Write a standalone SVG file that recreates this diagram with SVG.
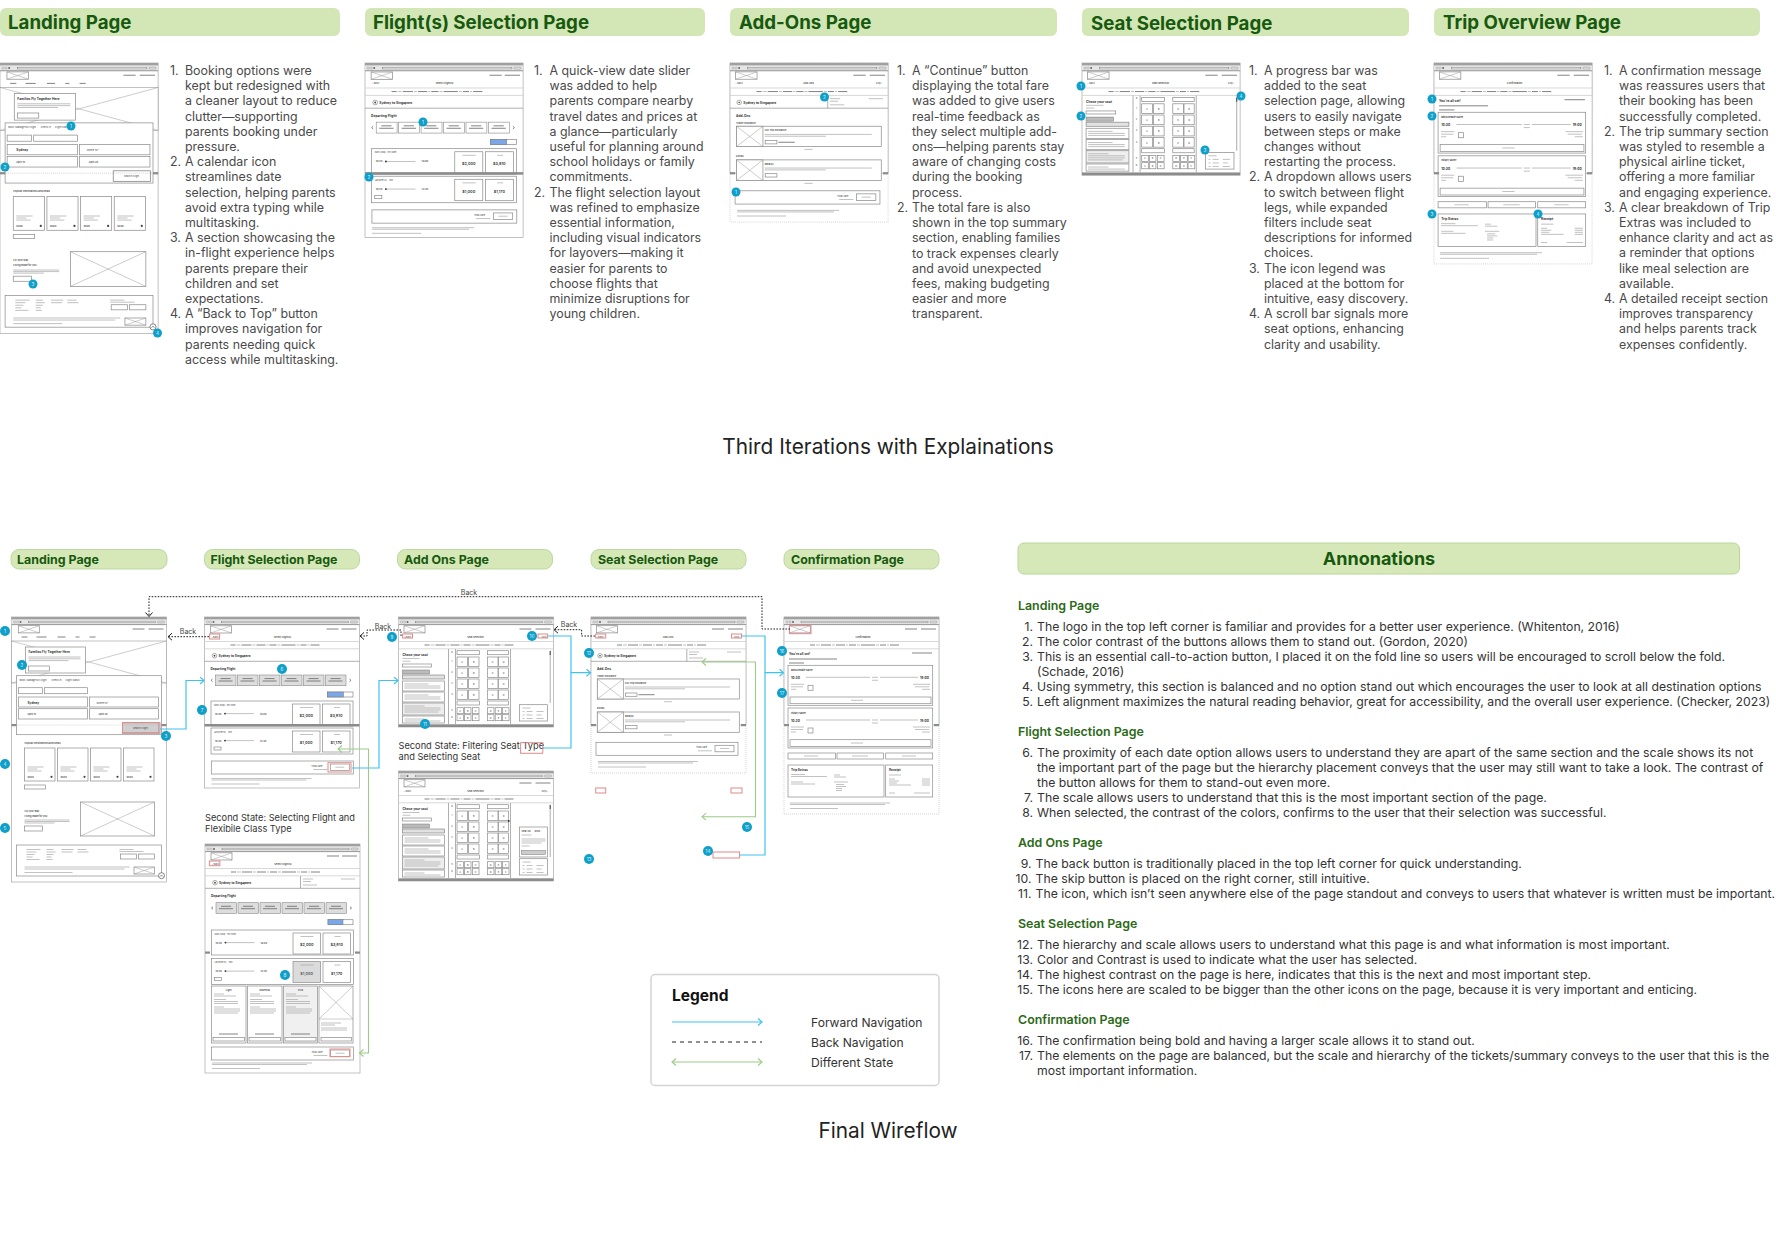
<svg xmlns="http://www.w3.org/2000/svg" width="1776" height="1260" viewBox="0 0 1776 1260">
<style>
text{font-family:Inter,"Liberation Sans",sans-serif}
.hd{fill:#d3e6b5}
.hd2{fill:#d6e8b7;stroke:#bcd8a0;stroke-width:1}
.ht{font-size:18.7px;font-weight:700;fill:#17590f}
.ht2{font-size:12.4px;font-weight:700;fill:#17590f}
.t{font-size:12.4px;fill:#4a4a4a}
.an{font-size:12.26px;fill:#333}
.sec{font-size:12.4px;font-weight:600;fill:#2c6a17}
.cap{font-size:9.25px;fill:#333}
.big{font-size:20.8px;fill:#222}
.bk{font-size:7px;fill:#444;text-anchor:middle}
.w{fill:#fff;stroke:#9a9a9a;stroke-width:.6}
.dash{fill:#fff;stroke:#bbb;stroke-width:.6;stroke-dasharray:1 1}
.b{fill:#fff;stroke:#8a8a8a;stroke-width:.7}
.g{fill:var(--sl,#ddd);stroke:#8a8a8a;stroke-width:.6}
.sb{fill:var(--sb,#cfcfcf);stroke:#777;stroke-width:.7}
.c{fill:none;stroke:#9a9a9a;stroke-width:.5}
.tx{fill:none;stroke:#a8a8a8;stroke-width:.7}
.tk{fill:none;stroke:#666;stroke-width:.8}
.div{fill:none;stroke:#8e8e8e;stroke-width:.7}
.fold{fill:#8c8c8c}
.m{font-size:2.4px;fill:#444}
.h{font-size:3.2px;font-weight:700;fill:#333}
.p{font-size:3.8px;font-weight:600;fill:#333;text-anchor:middle}
.r{fill:none;stroke:#e48a8a;stroke-width:1}
.fw{fill:none;stroke:#3fc3ee;stroke-width:1.2}
.bn{fill:none;stroke:#222;stroke-width:1;stroke-dasharray:1.6 1.4}
.ds{fill:none;stroke:#9ccb85;stroke-width:1.1}
.bd{fill:#0f9fc8}
.bt{font-size:4.6px;fill:#dff4fb;text-anchor:middle}
</style>
<defs>
<marker id="aB" markerWidth="7" markerHeight="8" refX="5" refY="4" orient="auto-start-reverse" markerUnits="userSpaceOnUse"><path d="M1 .5L5 4L1 7.5" fill="none" stroke="#3fc3ee" stroke-width="1.2"/></marker>
<marker id="aK" markerWidth="7" markerHeight="8" refX="5" refY="4" orient="auto-start-reverse" markerUnits="userSpaceOnUse"><path d="M1 .5L5 4L1 7.5" fill="none" stroke="#222" stroke-width="1"/></marker>
<marker id="aG" markerWidth="7" markerHeight="8" refX="5" refY="4" orient="auto-start-reverse" markerUnits="userSpaceOnUse"><path d="M1 .5L5 4L1 7.5" fill="none" stroke="#9ccb85" stroke-width="1.1"/></marker>
<g id="chrome">
<rect width="155" height="2.6" fill="#a0a0a0"/>
<rect y="2.6" width="155" height="5" fill="#e6e6e6"/>
<path d="M0 7.6H155" stroke="#8c8c8c" stroke-width=".9"/>
<circle cx="3" cy="5" r="1.1" class="c"/><circle cx="6" cy="5" r="1.1" class="c"/><circle cx="9" cy="5" r="1" fill="#666"/>
<rect x="17" y="4.2" width="127" height="1.6" fill="#fff" stroke="#777" stroke-width=".5"/>
<rect x="146" y="4.2" width="7" height="1.6" rx=".8" fill="#fff" stroke="#777" stroke-width=".5"/>
</g>
<g id="logo"><rect width="21" height="7.2" class="b"/><path d="M0 0L21 7.2M21 0L0 7.2" class="c"/></g>
<g id="prog"><path d="M0 24.5H155M0 31.8H155" stroke="#cfcfcf" stroke-width=".8"/><path d="M26 28h5M37 28h10M52 28h9M65 28h7M77 28h14M96 28h6M106 28h9" class="tk" stroke-width=".7"/><path d="M32 28h4M48 28h3M62 28h2M73 28h3M92 28h3M103 28h2" class="tx" stroke-width=".4"/></g>
<g id="fine"><path d="M7 0h100M7 1.5h95M7 5.5h48" class="tx" stroke-width=".55"/></g>
<g id="slider">
<rect x="0" width="20.5" height="10.7" class="g"/><rect x="22" width="20.5" height="10.7" class="g"/><rect x="44" width="20.5" height="10.7" class="g"/><rect x="66" width="20.5" height="10.7" class="g"/><rect x="88" width="20.5" height="10.7" class="g"/><rect x="110" width="20.5" height="10.7" class="g"/>
<path d="M5 3.6h10M3 6h14M27 3.6h10M25 6h14M49 3.6h10M47 6h14M71 3.6h10M69 6h14M93 3.6h10M91 6h14M115 3.6h10M113 6h14" class="tk" stroke-width=".5"/>
<path d="M-3 4L-4.5 5.3L-3 6.6M134 4L135.5 5.3L134 6.6" class="tk" stroke-width=".6"/>
</g>
<g id="total"><rect width="142" height="13" class="b" stroke-width=".8"/><rect x="119" y="3" width="19" height="6.5" class="b"/><path d="M124 6.2h9" class="tx"/><text x="100" y="6.2" class="m">Total Fare</text><path d="M102 8.5h14" class="tx" stroke-width=".4"/></g>
<g id="frow1">
<rect width="142" height="25" class="b" fill="#fff"/><rect x="81.500" y="3" width="27.500" height="21" class="b"/><rect x="111.500" y="3" width="27.500" height="21" class="b"/>
<text x="3" y="4.500" class="m">Non-stop · 9h 30m</text>
<text x="4" y="13.500" class="m" font-weight="600">10:30</text><path d="M13 12.600h30" class="tx" stroke-width="1"/><circle cx="14" cy="12.600" r=".9" fill="#333"/><text x="49" y="13.500" class="m" font-weight="600">19:00</text>
<path d="M89 6.500h13M123 6.500h6" class="tx" stroke-width=".5"/><text x="95.200" y="16" class="p">$2,000</text><text x="125.200" y="16" class="p">$3,810</text>
</g>
<g id="frow2">
<rect width="142" height="26" class="b" fill="#fff"/><rect x="81.500" y="3" width="27.500" height="21" class="b"/><rect x="111.500" y="3" width="27.500" height="21" class="b"/>
<text x="3" y="4.500" class="m">Layover(s) · 10h</text>
<text x="4" y="13.500" class="m" font-weight="600">10:30</text><path d="M13 12.600h30" class="tx" stroke-width="1"/><circle cx="14" cy="12.600" r=".9" fill="#333"/><text x="49" y="13.500" class="m" font-weight="600">12:30</text>
<rect x="3" y="19" width="7" height="3" class="b"/>
<path d="M89 6.500h13M123 6.500h6" class="tx" stroke-width=".5"/><text x="95.200" y="16" class="p">$1,000</text><text x="125.200" y="16" class="p">$1,170</text>
</g>
<g id="dest"><rect width="30.500" height="33" class="b"/><path d="M3 19h16M3 21h10M3 23h14" class="tx" stroke-width=".5"/><text x="3" y="29.500" class="m" font-weight="600">$500</text><circle cx="27" cy="28.800" r="1.100" fill="#444"/></g>
<g id="seat4">
<rect width="10.500" height="9.500" class="b"/><rect x="11.500" width="10.500" height="9.500" class="b"/><rect x="30.500" width="10.500" height="9.500" class="b"/><rect x="41.500" width="10" height="9.500" class="b"/>
<text x="5.200" y="6" class="m" text-anchor="middle">A</text><text x="16.800" y="6" class="m" text-anchor="middle">B</text><text x="35.700" y="6" class="m" text-anchor="middle">C</text><text x="46.500" y="6" class="m" text-anchor="middle">D</text>
</g>
<g id="seat6">
<rect width="6.500" height="6" class="b"/><rect x="7.500" width="6.500" height="6" class="b"/><rect x="15.500" width="6.500" height="6" class="b"/><rect x="30.500" width="6.500" height="6" class="b"/><rect x="38.200" width="6.500" height="6" class="b"/><rect x="45.500" width="6.500" height="6" class="b"/>
<text x="3.200" y="3.900" class="m" text-anchor="middle">A</text><text x="10.700" y="3.900" class="m" text-anchor="middle">B</text><text x="18.700" y="3.900" class="m" text-anchor="middle">C</text><text x="33.700" y="3.900" class="m" text-anchor="middle">D</text><text x="41.400" y="3.900" class="m" text-anchor="middle">E</text><text x="48.700" y="3.900" class="m" text-anchor="middle">F</text>
</g>
<g id="wf-landing">
<rect class="w" width="155" height="265"/><use href="#chrome"/>
<use href="#logo" x="6.800" y="8.700"/>
<path d="M121 12h12M137 12h15M10 20h6M25 20h10M46 20h8M64 20h4M78 20h6" class="tk" stroke-width=".7"/>
<rect y="24" width="155" height="42" fill="#fff" stroke="#9a9a9a" stroke-width=".6"/><path d="M0 24L155 66M155 24L0 66" class="c"/>
<rect x="14" y="30" width="60" height="26" class="b" stroke-width="1"/>
<text x="17" y="36" class="h">Families Fly Together Here</text>
<path d="M17 40h52M17 41.800h52M17 43.600h40" class="tx" stroke-width=".6"/><rect x="17" y="49" width="21" height="5" class="b"/>
<rect x="5" y="58.700" width="145" height="59" class="b" stroke-width=".8"/>
<text x="8" y="64" class="m">Book</text><text x="15" y="64" class="m">Manage My Flight</text><text x="40" y="64" class="m">Check In</text><text x="54" y="64" class="m">Flight Status</text>
<rect x="7" y="70.700" width="24" height="6" class="b"/><rect x="33" y="70.700" width="43" height="6" class="b"/>
<rect x="7" y="80" width="69" height="10" class="b"/><rect x="78" y="80" width="69" height="10" class="b"/><rect x="7" y="91.700" width="69" height="10.300" class="b"/><rect x="78" y="91.700" width="69" height="10.300" class="b"/>
<text x="16" y="86.500" class="h" font-size="3">Sydney</text><text x="85" y="86.500" class="m">Where to?</text><text x="16" y="98" class="m" font-weight="600">April 16</text><text x="87" y="98" class="m" font-weight="600">April 28</text>
<rect x="111" y="105.700" width="36.500" height="10.300" class="sb"/><text x="129" y="111.500" class="m" text-anchor="middle">Search Flight</text>
<path d="M0 108H155" stroke="#aaa" stroke-width=".5" stroke-dasharray="1 1"/><rect y="107" width="5" height="2.200" class="fold"/><rect x="150" y="107" width="5" height="2.200" class="fold"/>
<text x="13" y="126.500" class="m" font-weight="600" font-size="2.800">Popular Destinations and Deals</text>
<use href="#dest" x="13" y="131"/><use href="#dest" x="46" y="131"/><use href="#dest" x="79" y="131"/><use href="#dest" x="112" y="131"/>
<rect x="13" y="168" width="21" height="4" class="b"/>
<text x="13" y="194.500" class="m" font-weight="600" font-size="2.900">Fly your way</text><text x="13" y="199.500" class="m" font-weight="600" font-size="2.900">Flying made for you</text>
<path d="M13 203h45M13 204.500h45M13 206h30" class="tx" stroke-width=".5"/><rect x="13" y="209" width="18" height="5" class="b"/>
<rect x="69" y="185" width="74" height="34" class="b"/><path d="M69 185L143 219M143 185L69 219" class="c"/>
<rect x="5" y="228" width="145" height="31" class="b" stroke-width=".8"/>
<path d="M15 232.500h14M15 235h10M15 237.500h8M15 240h6M15 242.500h13M35 232.500h7M35 235h9M35 237.500h7M35 240h5M35 242.500h6M50 232.500h12M50 235h11M66 232.500h9M66 235h11M108 232.500h14M108 234.500h24" class="tx" stroke-width=".6"/>
<rect x="109" y="237" width="16" height="5" class="b"/><rect x="127" y="237" width="16" height="5" class="b"/>
<path d="M13 250h105M13 252h100M13 255.500h48" class="tx" stroke-width=".5"/>
<rect x="122.500" y="250" width="20.500" height="7" class="b"/><path d="M122.500 250L143 257M143 250L122.500 257" class="c"/>
<circle cx="150" cy="258.700" r="3" fill="#fff" stroke="#555" stroke-width=".7"/><path d="M148.600 259.500L150 258L151.400 259.500" class="tk" stroke-width=".5"/>
</g>
<g id="flight-head">
<use href="#chrome"/><use href="#logo" x="6" y="8.800"/>
<path d="M122 12h12M137 12h15" class="tk" stroke-width=".7"/>
<text x="7" y="20.500" class="m">‹ Back</text><text x="78" y="20.500" class="m" text-anchor="middle" font-weight="600">Select Flight(s)</text>
<use href="#prog"/>
<circle cx="10" cy="38.700" r="2.300" class="b"/><circle cx="10" cy="38.700" r=".9" fill="#444"/><text x="14" y="39.800" class="h" font-size="2.900">Sydney to Singapore</text>
<path d="M0 44.300H155" class="div"/>
<text x="6" y="52.500" class="h">Departing Flight</text>
</g>
<g id="wf-flight">
<rect class="w" width="155" height="171"/><use href="#flight-head"/>
<use href="#slider" x="11" y="58"/>
<rect x="123" y="75" width="25.500" height="5" class="b"/><rect x="123" y="75" width="16" height="5" fill="#7ba7e8" stroke="#777" stroke-width=".5"/>
<use href="#frow1" x="6.500" y="84"/><use href="#frow2" x="6.500" y="111"/>
<rect y="107" width="155" height="2.500" class="fold"/>
<use href="#total" x="6.800" y="144"/><use href="#fine" y="161.500"/>
</g>
<g id="wf-flight2">
<rect class="w" width="155" height="229"/><use href="#flight-head"/>
<path d="M95.500 32V44.300" class="div"/><path d="M98 35h10M98 37.500h8M98 41h14M136 35h14" class="tx" stroke-width=".6"/>
<use href="#slider" x="11" y="58.700"/>
<rect x="123" y="75.700" width="25" height="5" class="b"/><rect x="123" y="75.700" width="15" height="5" fill="#7ba7e8" stroke="#777" stroke-width=".5"/>
<use href="#frow1" x="6.500" y="86"/><use href="#frow2" x="6.500" y="114.500"/><rect x="88" y="117.500" width="27.500" height="21" fill="#999" opacity=".35"/>
<rect y="107.500" width="5" height="2.200" class="fold"/><rect x="150" y="107.500" width="5" height="2.200" class="fold"/>
<rect x="6.500" y="142" width="34.500" height="57" class="b"/><rect x="42.500" y="142" width="34.500" height="57" class="b"/><rect x="78.500" y="142" width="34" height="57" fill="#f0f0f0" stroke="#8a8a8a" stroke-width=".7"/><rect x="114" y="142" width="34" height="57" class="b"/>
<path d="M114 142L148 175M148 142L114 175M114 175H148" class="c"/>
<text x="23.700" y="146.500" class="m" text-anchor="middle" font-weight="600">Light</text><text x="59.700" y="146.500" class="m" text-anchor="middle" font-weight="600">Essential</text><text x="95.500" y="146.500" class="m" text-anchor="middle" font-weight="600">Plus</text>
<path d="M9 150h10M9 152h22M9 155.500h12M9 157.500h24M9 159.500h24M9 163h10M9 165h26M9 167h26M9 169h24M45 150h10M45 152h22M45 155.500h12M45 157.500h24M45 159.500h24M45 163h10M45 165h26M45 167h26M45 169h24M81 150h10M81 152h22M81 155.500h12M81 157.500h24M81 159.500h24M81 163h10M81 165h26M81 167h26M81 169h24M116 179h20M116 181h14M116 184h26M116 186h26" class="tx" stroke-width=".55"/>
<path d="M14 190h19M50 190h19M86 190h19" class="tk" stroke-width=".6"/>
<rect x="8" y="193.500" width="31.500" height="3.500" class="b"/><rect x="44" y="193.500" width="31.500" height="3.500" class="b"/><rect x="80" y="193.500" width="31" height="3.500" class="b"/><rect x="116" y="193.500" width="30.500" height="3.500" class="b"/>
<use href="#total" x="6.500" y="203"/><use href="#fine" y="219"/>
</g>
<g id="seat-head">
<use href="#chrome"/><use href="#logo" x="5.500" y="8.700"/>
<path d="M121 12h12M137 12h15" class="tk" stroke-width=".7"/>
<text x="5.500" y="20.500" class="m">‹ Back</text><text x="143" y="20.500" class="m">Skip ›</text>
</g>
<g id="wf-seat">
<rect class="w" width="155" height="110"/><use href="#seat-head"/>
<text x="77" y="20.500" class="m" text-anchor="middle" font-weight="600">Seat Selection</text><use href="#prog"/>
<text x="4" y="38.800" class="h">Chose your seat</text><path d="M4 41.500h17M4 44.200h8" class="tx" stroke-width=".6"/>
<rect x="4" y="47" width="29" height="3" class="b"/><rect x="4" y="53" width="27" height="4" fill="#bbb" stroke="#777" stroke-width=".5"/><rect x="4" y="58" width="42" height="4" fill="#e2e2e2" stroke="#777" stroke-width=".6"/>
<rect x="4" y="64" width="42" height="10" class="b"/><rect x="4" y="75" width="42" height="10" class="b"/><rect x="4" y="86" width="42" height="12" fill="#eee" stroke="#8a8a8a" stroke-width=".7"/><rect x="4" y="99" width="42" height="7" class="b"/>
<path d="M6 67h24M6 69h36M6 71h36M6 78h24M6 80h36M6 82h36M6 89h20M6 91h36M6 93h36M6 95h34M6 102h20M6 104h36" class="tx" stroke-width=".5"/>
<path d="M50 32V107M57 32V107M112 32V107" class="div"/>
<rect x="58.500" y="33.700" width="22.500" height="4" class="b"/><rect x="89" y="33.700" width="21" height="4" class="b"/><rect x="58.500" y="84" width="22.500" height="4" class="b"/><rect x="89" y="84" width="21" height="4" class="b"/>
<use href="#seat4" x="58.500" y="40"/><use href="#seat4" x="58.500" y="51"/><use href="#seat4" x="58.500" y="62"/><use href="#seat4" x="58.500" y="73"/>
<use href="#seat6" x="58.500" y="90.700"/><use href="#seat6" x="58.500" y="97.700"/>
<text x="53.500" y="35.500" class="m" text-anchor="middle">#</text><text x="53.500" y="45" class="m" text-anchor="middle">1</text><text x="53.500" y="56" class="m" text-anchor="middle">2</text><text x="53.500" y="67" class="m" text-anchor="middle">3</text><text x="53.500" y="78" class="m" text-anchor="middle">4</text><text x="53.500" y="94" class="m" text-anchor="middle">5</text><text x="53.500" y="101" class="m" text-anchor="middle">6</text>
<path d="M151.700 33.700V86" stroke="#999" stroke-width=".8"/><path d="M151.700 34V38" stroke="#444" stroke-width="1"/>
<rect x="121" y="87.700" width="28" height="16.300" class="b"/><path d="M124 91h8M124 94.500h2M128 94.500h6M138 94.500h7M124 98h2M128 98h6M138 98h5M124 101.500h2M128 101.500h6M138 101.500h7" class="tx" stroke-width=".6"/>
<rect y="107.300" width="155" height="2.700" class="fold"/>
</g>
<g id="wf-addons">
<rect class="dash" width="155" height="156"/><rect class="w" width="155" height="108"/><use href="#seat-head"/>
<text x="77" y="20.500" class="m" text-anchor="middle" font-weight="600">Add-Ons</text><use href="#prog"/>
<path d="M0 44.300H155M95.800 32V44.300" class="div"/><circle cx="9" cy="38.700" r="2.200" class="b"/><circle cx="9" cy="38.700" r=".8" fill="#444"/>
<text x="13" y="40" class="h" font-size="2.900">Sydney to Singapore</text><path d="M98 35h10M98 37.500h8M98 41h14M136 35h14" class="tx" stroke-width=".6"/>
<text x="6" y="53" class="h">Add-Ons</text><text x="6" y="60" class="m" font-weight="600">Travel Insurance</text>
<rect x="6.300" y="62" width="142" height="20" class="b"/><rect x="6.300" y="62" width="26" height="20" class="b"/><path d="M6.300 62L32.300 82M32.300 62L6.300 82" class="c"/>
<text x="34" y="67" class="m" font-weight="600">Full Trip Insurance</text><path d="M34 70h105M34 71.800h60" class="tx" stroke-width=".5"/><rect x="34.500" y="76" width="11.500" height="3.300" class="b"/><path d="M47.500 77.700h16" class="tk" stroke-width=".6"/>
<path d="M73 84.700h8" class="tx" stroke-width=".5"/><text x="6" y="92" class="m" font-weight="600">Extras</text>
<rect x="6.300" y="95" width="142" height="20.300" class="b"/><rect x="6.300" y="95" width="26" height="20.300" class="b"/><path d="M6.300 95L32.300 115.300M32.300 95L6.300 115.300" class="c"/>
<text x="34" y="100" class="m" font-weight="600">Meal(s)</text><path d="M34 103h105M34 104.800h60" class="tx" stroke-width=".5"/><rect x="34.500" y="108.500" width="11.500" height="3.300" class="b"/>
<rect y="107" width="5" height="2.200" class="fold"/><rect x="150" y="107" width="5" height="2.200" class="fold"/>
<path d="M73 118h8" class="tx" stroke-width=".5"/>
<use href="#total" x="5" y="125.300"/><use href="#fine" y="144.500"/>
</g>
<g id="ticket">
<rect width="144.700" height="40" class="b" stroke-width=".9"/><rect x="2" y="31.700" width="141" height="6.700" class="b" stroke-width=".9"/><path d="M63 35h12" class="tx" stroke-width=".5"/>
<text x="3" y="13.500" class="h" font-size="4">10:30</text><text x="132" y="13.500" class="h" font-size="3.600">19:00</text>
<path d="M18 12h64M92 12h38" class="tx"/><path d="M84 12h6M84 15h6M3 19h13M3 21.500h12M3 24h5M125 19h17M127 21.500h14M134 24h8" class="tx" stroke-width=".5"/>
<rect x="20" y="20" width="5" height="5" class="b"/>
</g>
<g id="wf-confirm">
<rect class="dash" width="155" height="197"/><rect class="w" width="155" height="108"/><use href="#chrome"/>
<use href="#logo" x="5.300" y="8.700"/><path d="M121 12h12M137 12h15" class="tk" stroke-width=".7"/>
<text x="79" y="20.500" class="m" text-anchor="middle" font-weight="600">Confirmation</text><use href="#prog"/>
<text x="5" y="38.300" class="h" font-size="3.600">You're all set!</text><path d="M5 42h48M5 46h15M128 36h20" class="tk" stroke-width=".5"/>
<use href="#ticket" x="4" y="48.300"/><use href="#ticket" x="4" y="91"/>
<text x="7" y="54" class="m" font-weight="700">Miss Debbie Salter</text><text x="7" y="96.500" class="m" font-weight="700">Hillary Salter</text>
<rect y="107" width="5" height="2.200" class="fold"/><rect x="150" y="107" width="5" height="2.200" class="fold"/>
<rect x="4" y="136" width="47.400" height="6" class="b"/><rect x="53" y="136" width="46.500" height="6" class="b"/><rect x="101.700" y="136" width="47" height="6" class="b"/>
<path d="M20 139h14M68 139h16M118 139h14" class="tx" stroke-width=".5"/>
<rect x="4" y="148" width="96" height="32" class="b"/><rect x="101.700" y="148" width="47" height="32" class="b"/>
<text x="7" y="154" class="h" font-size="2.900">Trip Extras</text><text x="105" y="154" class="h" font-size="2.900">Receipt</text>
<path d="M7 157.500h14M7 159.500h36M7 165h12M7 167h24M50 158h6M50 160h12M50 165h14M52 167.500h8M52 169.500h10M52 171.500h6M52 173.500h6M105 158h12M105 162h6M105 164h10M105 166h8M105 168h22M138 162h8M138 164h8M138 166h8M138 168h8M105 176h6M130 176h16" class="tx" stroke-width=".55"/>
<use href="#fine" x="-1" y="186"/>
</g>
</defs>

<rect width="1776" height="1260" fill="#fff"/>

<g id="top-headers">
<g id="hdr-landing"><rect class="hd" x="0" y="8" width="340" height="28" rx="6"/><text class="ht" x="8" y="29">Landing Page</text></g>
<g id="hdr-flight"><rect class="hd" x="365" y="8" width="340" height="28" rx="6"/><text class="ht" x="373" y="29">Flight(s) Selection Page</text></g>
<g id="hdr-addons"><rect class="hd" x="730" y="8" width="327" height="28" rx="6"/><text class="ht" x="739" y="29">Add-Ons Page</text></g>
<g id="hdr-seat"><rect class="hd" x="1082" y="8" width="327" height="28" rx="6"/><text class="ht" x="1091" y="30">Seat Selection Page</text></g>
<g id="hdr-trip"><rect class="hd" x="1434" y="8" width="326" height="28" rx="6"/><text class="ht" x="1443" y="29">Trip Overview Page</text></g>
</g>

<g id="top-wireframes" style="--sl:#fff;--sb:#fff">
<g id="top-wf-landing" transform="translate(0,63) scale(1.02)"><use href="#wf-landing"/></g>
<g id="top-wf-flight" transform="translate(365,63) scale(1.02)"><use href="#wf-flight"/></g>
<g id="top-wf-addons" transform="translate(730,63) scale(1.02)"><use href="#wf-addons"/></g>
<g id="top-wf-seat" transform="translate(1082,63) scale(1.02)"><use href="#wf-seat"/></g>
<g id="top-wf-trip" transform="translate(1434,63) scale(1.02)"><use href="#wf-confirm"/></g>
</g>

<g id="top-notes">
<g id="notes-landing">
<text class="t" x="170" y="75">1.</text><text class="t"><tspan x="185" y="75">Booking options were</tspan><tspan x="185" dy="15.2">kept but redesigned with</tspan><tspan x="185" dy="15.2">a cleaner layout to reduce</tspan><tspan x="185" dy="15.2">clutter—supporting</tspan><tspan x="185" dy="15.2">parents booking under</tspan><tspan x="185" dy="15.2">pressure.</tspan></text>
<text class="t" x="170" y="166.200">2.</text><text class="t"><tspan x="185" y="166.200">A calendar icon</tspan><tspan x="185" dy="15.2">streamlines date</tspan><tspan x="185" dy="15.2">selection, helping parents</tspan><tspan x="185" dy="15.2">avoid extra typing while</tspan><tspan x="185" dy="15.2">multitasking.</tspan></text>
<text class="t" x="170" y="242.200">3.</text><text class="t"><tspan x="185" y="242.200">A section showcasing the</tspan><tspan x="185" dy="15.2">in-flight experience helps</tspan><tspan x="185" dy="15.2">parents prepare their</tspan><tspan x="185" dy="15.2">children and set</tspan><tspan x="185" dy="15.2">expectations.</tspan></text>
<text class="t" x="170" y="318.200">4.</text><text class="t"><tspan x="185" y="318.200">A “Back to Top” button</tspan><tspan x="185" dy="15.2">improves navigation for</tspan><tspan x="185" dy="15.2">parents needing quick</tspan><tspan x="185" dy="15.2">access while multitasking.</tspan></text>
</g>
<g id="notes-flight">
<text class="t" x="534" y="75">1.</text><text class="t"><tspan x="549.500" y="75">A quick-view date slider</tspan><tspan x="549.500" dy="15.2">was added to help</tspan><tspan x="549.500" dy="15.2">parents compare nearby</tspan><tspan x="549.500" dy="15.2">travel dates and prices at</tspan><tspan x="549.500" dy="15.2">a glance—particularly</tspan><tspan x="549.500" dy="15.2">useful for planning around</tspan><tspan x="549.500" dy="15.2">school holidays or family</tspan><tspan x="549.500" dy="15.2">commitments.</tspan></text>
<text class="t" x="534" y="196.600">2.</text><text class="t"><tspan x="549.500" y="196.600">The flight selection layout</tspan><tspan x="549.500" dy="15.2">was refined to emphasize</tspan><tspan x="549.500" dy="15.2">essential information,</tspan><tspan x="549.500" dy="15.2">including visual indicators</tspan><tspan x="549.500" dy="15.2">for layovers—making it</tspan><tspan x="549.500" dy="15.2">easier for parents to</tspan><tspan x="549.500" dy="15.2">choose flights that</tspan><tspan x="549.500" dy="15.2">minimize disruptions for</tspan><tspan x="549.500" dy="15.2">young children.</tspan></text>
</g>
<g id="notes-addons">
<text class="t" x="897" y="75">1.</text><text class="t"><tspan x="912" y="75">A “Continue” button</tspan><tspan x="912" dy="15.2">displaying the total fare</tspan><tspan x="912" dy="15.2">was added to give users</tspan><tspan x="912" dy="15.2">real-time feedback as</tspan><tspan x="912" dy="15.2">they select multiple add-</tspan><tspan x="912" dy="15.2">ons—helping parents stay</tspan><tspan x="912" dy="15.2">aware of changing costs</tspan><tspan x="912" dy="15.2">during the booking</tspan><tspan x="912" dy="15.2">process.</tspan></text>
<text class="t" x="897" y="212">2.</text><text class="t"><tspan x="912" y="212">The total fare is also</tspan><tspan x="912" dy="15.2">shown in the top summary</tspan><tspan x="912" dy="15.2">section, enabling families</tspan><tspan x="912" dy="15.2">to track expenses clearly</tspan><tspan x="912" dy="15.2">and avoid unexpected</tspan><tspan x="912" dy="15.2">fees, making budgeting</tspan><tspan x="912" dy="15.2">easier and more</tspan><tspan x="912" dy="15.2">transparent.</tspan></text>
</g>
<g id="notes-seat">
<text class="t" x="1249" y="75">1.</text><text class="t"><tspan x="1264" y="75">A progress bar was</tspan><tspan x="1264" dy="15.2">added to the seat</tspan><tspan x="1264" dy="15.2">selection page, allowing</tspan><tspan x="1264" dy="15.2">users to easily navigate</tspan><tspan x="1264" dy="15.2">between steps or make</tspan><tspan x="1264" dy="15.2">changes without</tspan><tspan x="1264" dy="15.2">restarting the process.</tspan></text>
<text class="t" x="1249" y="181.400">2.</text><text class="t"><tspan x="1264" y="181.400">A dropdown allows users</tspan><tspan x="1264" dy="15.2">to switch between flight</tspan><tspan x="1264" dy="15.2">legs, while expanded</tspan><tspan x="1264" dy="15.2">filters include seat</tspan><tspan x="1264" dy="15.2">descriptions for informed</tspan><tspan x="1264" dy="15.2">choices.</tspan></text>
<text class="t" x="1249" y="272.600">3.</text><text class="t"><tspan x="1264" y="272.600">The icon legend was</tspan><tspan x="1264" dy="15.2">placed at the bottom for</tspan><tspan x="1264" dy="15.2">intuitive, easy discovery.</tspan></text>
<text class="t" x="1249" y="318.200">4.</text><text class="t"><tspan x="1264" y="318.200">A scroll bar signals more</tspan><tspan x="1264" dy="15.2">seat options, enhancing</tspan><tspan x="1264" dy="15.2">clarity and usability.</tspan></text>
</g>
<g id="notes-trip">
<text class="t" x="1604" y="75">1.</text><text class="t"><tspan x="1619" y="75">A confirmation message</tspan><tspan x="1619" dy="15.2">was reassures users that</tspan><tspan x="1619" dy="15.2">their booking has been</tspan><tspan x="1619" dy="15.2">successfully completed.</tspan></text>
<text class="t" x="1604" y="135.800">2.</text><text class="t"><tspan x="1619" y="135.800">The trip summary section</tspan><tspan x="1619" dy="15.2">was styled to resemble a</tspan><tspan x="1619" dy="15.2">physical airline ticket,</tspan><tspan x="1619" dy="15.2">offering a more familiar</tspan><tspan x="1619" dy="15.2">and engaging experience.</tspan></text>
<text class="t" x="1604" y="211.800">3.</text><text class="t"><tspan x="1619" y="211.800">A clear breakdown of Trip</tspan><tspan x="1619" dy="15.2">Extras was included to</tspan><tspan x="1619" dy="15.2">enhance clarity and act as</tspan><tspan x="1619" dy="15.2">a reminder that options</tspan><tspan x="1619" dy="15.2">like meal selection are</tspan><tspan x="1619" dy="15.2">available.</tspan></text>
<text class="t" x="1604" y="303">4.</text><text class="t"><tspan x="1619" y="303">A detailed receipt section</tspan><tspan x="1619" dy="15.2">improves transparency</tspan><tspan x="1619" dy="15.2">and helps parents track</tspan><tspan x="1619" dy="15.2">expenses confidently.</tspan></text>
</g>
</g>

<text id="title-third" class="big" x="888" y="454" text-anchor="middle">Third Iterations with Explainations</text>
<text id="title-final" class="big" x="888" y="1138" text-anchor="middle">Final Wireflow</text>

<g id="flow-headers">
<g id="fh-landing"><rect class="hd2" x="11" y="549.500" width="156" height="19.500" rx="8"/><text class="ht2" x="17" y="563.500">Landing Page</text></g>
<g id="fh-flight"><rect class="hd2" x="204.500" y="549.500" width="155" height="19.500" rx="8"/><text class="ht2" x="210.500" y="563.500">Flight Selection Page</text></g>
<g id="fh-addons"><rect class="hd2" x="397.500" y="549.500" width="155" height="19.500" rx="8"/><text class="ht2" x="404" y="563.500">Add Ons Page</text></g>
<g id="fh-seat"><rect class="hd2" x="591" y="549.500" width="155" height="19.500" rx="8"/><text class="ht2" x="598" y="563.500">Seat Selection Page</text></g>
<g id="fh-confirm"><rect class="hd2" x="784" y="549.500" width="155" height="19.500" rx="8"/><text class="ht2" x="791" y="563.500">Confirmation Page</text></g>
</g>

<g id="flow-wireframes">
<g id="flow-landing" transform="translate(11.500,617)"><use href="#wf-landing"/></g>
<g id="flow-flight" transform="translate(204.500,617)"><use href="#wf-flight"/></g>
<g id="flow-flight2" transform="translate(205,844)"><use href="#wf-flight2"/></g>
<g id="flow-seat" transform="translate(398.500,617)"><use href="#wf-seat"/></g>
<g id="flow-seat2" transform="translate(398.500,771)"><use href="#wf-seat"/><rect x="121" y="56" width="28" height="30" class="b"/><text x="123" y="60.500" class="m" font-weight="600">Seat 4D</text><text x="136" y="60.500" class="m" font-weight="600">$150</text><path d="M123 64h10M123 68h24M123 70h24M123 72h20M123 75h8" class="tx" stroke-width=".5"/><rect x="123" y="79.500" width="24" height="4" fill="#ccc" stroke="#777" stroke-width=".5"/><circle cx="110.300" cy="50" r=".9" fill="#222"/></g>
<g id="flow-addons" transform="translate(591,617)"><use href="#wf-addons"/></g>
<g id="flow-confirm" transform="translate(784,617)"><use href="#wf-confirm"/></g>
<text class="cap" x="205" y="820.500">Second State: Selecting Flight and</text><text class="cap" x="205" y="831.500">Flexibile Class Type</text>
<text class="cap" x="398.500" y="749">Second State: Filtering Seat Type</text><text class="cap" x="398.500" y="760">and Selecting Seat</text>
</g>

<g id="highlights">
<rect class="r" x="122.500" y="722.700" width="37.500" height="10.600"/><rect class="r" x="209.600" y="634" width="10" height="5"/><rect class="r" x="328" y="762.700" width="23" height="9.300"/>
<rect class="r" x="402.500" y="634" width="10" height="4"/><rect class="r" x="538" y="634" width="9.600" height="4"/><rect class="r" x="520.600" y="742.700" width="22.200" height="10.600"/>
<rect class="r" x="595.700" y="634" width="10" height="4"/><rect class="r" x="731.500" y="634" width="10" height="4"/><rect class="r" x="595.700" y="788" width="10" height="5"/><rect class="r" x="731" y="788" width="11" height="5"/><rect class="r" x="713" y="852" width="26.600" height="6"/>
<rect class="r" x="789.500" y="625.700" width="21.500" height="8"/><rect class="r" x="209.400" y="861" width="10.500" height="4.700"/><rect class="r" x="330" y="1049" width="20" height="7.700"/>
</g>

<g id="connectors">
<path class="fw" d="M160 729H186V680.500H204" marker-end="url(#aB)"/>
<path class="fw" d="M352 768H379V680.500H398" marker-end="url(#aB)"/>
<path class="fw" d="M548 636H571V672.700H590.500" marker-end="url(#aB)"/>
<path class="fw" d="M543 748H571V672.700"/>
<path class="fw" d="M741.500 636H765V672.700H783.500" marker-end="url(#aB)"/>
<path class="fw" d="M739.600 855H765V672.700"/>
<path class="ds" d="M338 749H368.500V1053H359.500" marker-start="url(#aG)" marker-end="url(#aG)"/>
<path class="ds" d="M702 662H755.500V816.700H702" marker-start="url(#aG)" marker-end="url(#aG)"/>
<path class="bn" d="M790 629H762V596.700H149V616.500" marker-end="url(#aK)"/>
<path class="bn" d="M209 636.700H168" marker-end="url(#aK)"/>
<path class="bn" d="M401 636V630H367V636H360" marker-end="url(#aK)"/>
<path class="bn" d="M595 636H581.600V629.700H554" marker-end="url(#aK)"/>
<text class="bk" x="188" y="634">Back</text><text class="bk" x="383" y="629">Back</text><text class="bk" x="569" y="627">Back</text><text class="bk" x="469" y="594.500">Back</text>
</g>

<g id="badges">
<g id="badges-top"><circle class="bd" cx="71" cy="126" r="4.500"/><text class="bt" x="71" y="127.600">1</text><circle class="bd" cx="5" cy="167" r="4.500"/><text class="bt" x="5" y="168.600">2</text><circle class="bd" cx="33" cy="284" r="4.500"/><text class="bt" x="33" y="285.600">3</text><circle class="bd" cx="157.500" cy="333" r="4.500"/><text class="bt" x="157.500" y="334.600">4</text>
<circle class="bd" cx="423" cy="122" r="4.500"/><text class="bt" x="423" y="123.600">1</text><circle class="bd" cx="369" cy="177" r="4.500"/><text class="bt" x="369" y="178.600">2</text>
<circle class="bd" cx="736" cy="192" r="4.500"/><text class="bt" x="736" y="193.600">1</text><circle class="bd" cx="824.500" cy="97" r="4.500"/><text class="bt" x="824.500" y="98.600">2</text>
<circle class="bd" cx="1081" cy="86" r="4.500"/><text class="bt" x="1081" y="87.600">1</text><circle class="bd" cx="1081" cy="116" r="4.500"/><text class="bt" x="1081" y="117.600">2</text><circle class="bd" cx="1205" cy="150" r="4.500"/><text class="bt" x="1205" y="151.600">3</text><circle class="bd" cx="1241" cy="96" r="4.500"/><text class="bt" x="1241" y="97.600">4</text>
<circle class="bd" cx="1432" cy="99" r="4.500"/><text class="bt" x="1432" y="100.600">1</text><circle class="bd" cx="1432" cy="116" r="4.500"/><text class="bt" x="1432" y="117.600">2</text><circle class="bd" cx="1432" cy="214" r="4.500"/><text class="bt" x="1432" y="215.600">3</text><circle class="bd" cx="1538" cy="214" r="4.500"/><text class="bt" x="1538" y="215.600">4</text></g>
<g id="badges-flow"><circle class="bd" cx="5" cy="631" r="5"/><text class="bt" x="5" y="632.600">1</text><circle class="bd" cx="22" cy="665" r="5"/><text class="bt" x="22" y="666.600">2</text><circle class="bd" cx="166" cy="736" r="5"/><text class="bt" x="166" y="737.600">3</text><circle class="bd" cx="5" cy="764" r="5"/><text class="bt" x="5" y="765.600">4</text><circle class="bd" cx="5" cy="828" r="5"/><text class="bt" x="5" y="829.600">5</text>
<circle class="bd" cx="282" cy="669" r="5"/><text class="bt" x="282" y="670.600">6</text><circle class="bd" cx="202" cy="710" r="5"/><text class="bt" x="202" y="711.600">7</text><circle class="bd" cx="285" cy="975" r="5"/><text class="bt" x="285" y="976.600">8</text><circle class="bd" cx="392" cy="637" r="5"/><text class="bt" x="392" y="638.600">9</text><circle class="bd" cx="532" cy="636" r="5"/><text class="bt" x="532" y="637.600">10</text><circle class="bd" cx="425" cy="724" r="5"/><text class="bt" x="425" y="725.600">11</text>
<circle class="bd" cx="589" cy="653" r="5"/><text class="bt" x="589" y="654.600">12</text><circle class="bd" cx="589" cy="859" r="5"/><text class="bt" x="589" y="860.600">13</text><circle class="bd" cx="708" cy="851" r="5"/><text class="bt" x="708" y="852.600">14</text><circle class="bd" cx="747" cy="827" r="5"/><text class="bt" x="747" y="828.600">15</text><circle class="bd" cx="782" cy="651" r="5"/><text class="bt" x="782" y="652.600">16</text><circle class="bd" cx="782" cy="693" r="5"/><text class="bt" x="782" y="694.600">17</text></g>
</g>

<g id="legend">
<rect x="651" y="974.500" width="288" height="111" rx="4" fill="#fff" stroke="#d4d4d4" stroke-width="1.500"/>
<text x="672" y="1001" font-size="15.5" font-weight="700" fill="#111">Legend</text>
<path d="M672 1022H762" stroke="#3fc3ee" stroke-width="1.100" fill="none" marker-end="url(#aB)"/>
<path d="M672 1042H762" stroke="#222" stroke-width="1" stroke-dasharray="4 4" fill="none"/>
<path d="M672 1062H762" stroke="#9ccb85" stroke-width="1.100" fill="none" marker-start="url(#aG)" marker-end="url(#aG)"/>
<text x="811" y="1027" font-size="12.1" fill="#333">Forward Navigation</text><text x="811" y="1047" font-size="12.1" fill="#333">Back Navigation</text><text x="811" y="1067" font-size="12.1" fill="#333">Different State</text>
</g>

<g id="annotations">
<rect x="1018" y="543" width="721.500" height="31" rx="6" fill="#d6e8b7" stroke="#b9d69a" stroke-width="1"/>
<text x="1379" y="564.500" text-anchor="middle" font-size="18" font-weight="700" fill="#17590f">Annonations</text>
<text class="sec" x="1018" y="610">Landing Page</text>
<g><text class="an" x="1033" y="631" text-anchor="end">1.</text><text class="an" x="1037" y="631">The logo in the top left corner is familiar and provides for a better user experience. (Whitenton, 2016)</text>
<text class="an" x="1033" y="646" text-anchor="end">2.</text><text class="an" x="1037" y="646">The color contrast of the buttons allows them to stand out. (Gordon, 2020)</text>
<text class="an" x="1033" y="661" text-anchor="end">3.</text><text class="an" x="1037" y="661">This is an essential call-to-action button, I placed it on the fold line so users will be encouraged to scroll below the fold.</text><text class="an" x="1037" y="676">(Schade, 2016)</text>
<text class="an" x="1033" y="691" text-anchor="end">4.</text><text class="an" x="1037" y="691">Using symmetry, this section is balanced and no option stand out which encourages the user to look at all destination options</text>
<text class="an" x="1033" y="706" text-anchor="end">5.</text><text class="an" x="1037" y="706">Left alignment maximizes the natural reading behavior, great for accessibility, and the overall user experience. (Checker, 2023)</text></g>
<text class="sec" x="1018" y="736">Flight Selection Page</text>
<g><text class="an" x="1033" y="757" text-anchor="end">6.</text><text class="an" x="1037" y="757">The proximity of each date option allows users to understand they are apart of the same section and the scale shows its not</text><text class="an" x="1037" y="772">the important part of the page but the hierarchy placement conveys that the user may still want to take a look. The contrast of</text><text class="an" x="1037" y="787">the button allows for them to stand-out even more.</text>
<text class="an" x="1033" y="802" text-anchor="end">7.</text><text class="an" x="1037" y="802">The scale allows users to understand that this is the most important section of the page.</text>
<text class="an" x="1033" y="817" text-anchor="end">8.</text><text class="an" x="1037" y="817">When selected, the contrast of the colors, confirms to the user that their selection was successful.</text></g>
<text class="sec" x="1018" y="847">Add Ons Page</text>
<g><text class="an" x="1031.500" y="868" text-anchor="end">9.</text><text class="an" x="1035.500" y="868">The back button is traditionally placed in the top left corner for quick understanding.</text>
<text class="an" x="1031.500" y="883" text-anchor="end">10.</text><text class="an" x="1035.500" y="883">The skip button is placed on the right corner, still intuitive.</text>
<text class="an" x="1031.500" y="898" text-anchor="end">11.</text><text class="an" x="1035.500" y="898">The icon, which isn’t seen anywhere else of the page standout and conveys to users that whatever is written must be important.</text></g>
<text class="sec" x="1018" y="928">Seat Selection Page</text>
<g><text class="an" x="1033" y="949" text-anchor="end">12.</text><text class="an" x="1037" y="949">The hierarchy and scale allows users to understand what this page is and what information is most important.</text>
<text class="an" x="1033" y="964" text-anchor="end">13.</text><text class="an" x="1037" y="964">Color and Contrast is used to indicate what the user has selected.</text>
<text class="an" x="1033" y="979" text-anchor="end">14.</text><text class="an" x="1037" y="979">The highest contrast on the page is here, indicates that this is the next and most important step.</text>
<text class="an" x="1033" y="994" text-anchor="end">15.</text><text class="an" x="1037" y="994">The icons here are scaled to be bigger than the other icons on the page, because it is very important and enticing.</text></g>
<text class="sec" x="1018" y="1024">Confirmation Page</text>
<g><text class="an" x="1033" y="1045" text-anchor="end">16.</text><text class="an" x="1037" y="1045">The confirmation being bold and having a larger scale allows it to stand out.</text>
<text class="an" x="1033" y="1060" text-anchor="end">17.</text><text class="an" x="1037" y="1060">The elements on the page are balanced, but the scale and hierarchy of the tickets/summary conveys to the user that this is the</text><text class="an" x="1037" y="1075">most important information.</text></g>
</g>
</svg>
